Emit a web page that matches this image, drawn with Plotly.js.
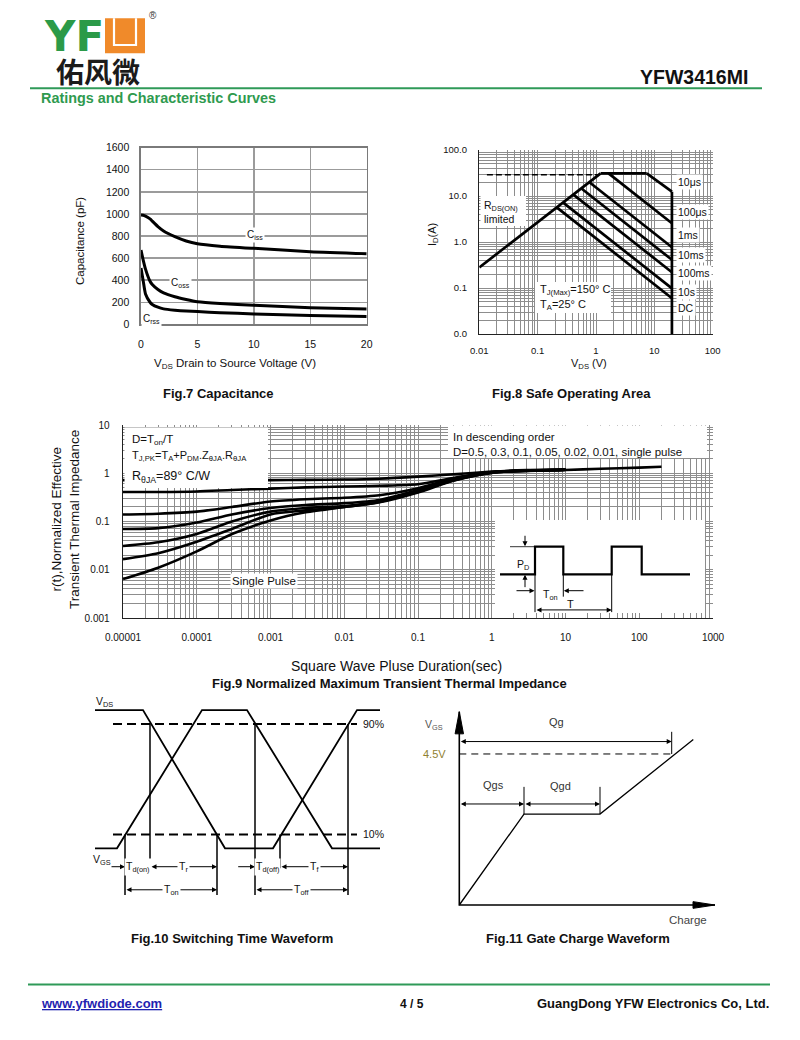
<!DOCTYPE html>
<html>
<head>
<meta charset="utf-8">
<script src="https://cdn.plot.ly/plotly-3.0.1.min.js"></script>
<style>
html,body{margin:0;padding:0;background:#fff;}
#chart{width:800px;height:1040px;}
</style>
</head>
<body>
<div id="chart"></div>
<script>
// ================= DATA =================
// Fig.7 Capacitance (pF) vs VDS (V)
const capVds  = [0, 0.2, 0.4, 0.8, 1, 1.5, 2, 3, 4, 5, 7, 10, 15, 20];
const capCiss = [990, 988, 980, 955, 935, 885, 845, 794, 755, 730, 708, 688, 658, 640];
const capCoss = [673, 580, 500, 390, 360, 315, 285, 250, 225, 205, 188, 172, 150, 138];
const capCrss = [510, 390, 275, 200, 180, 155, 140, 128, 120, 115, 105, 94, 80, 70];

// Fig.8 Safe Operating Area  (VDS in V, ID in A)
const soaRdsV   = [0.01, 1.2];   const soaRdsI   = [0.28, 31];
const soaTopV   = [1.2, 7.4];    const soaTopI   = [31, 31];
const soa10usV  = [7.4, 20];     const soa10usI  = [31, 12.4];
const soaEdgeV  = [20, 20];      const soaEdgeI  = [12.4, 0.01];
const soa100usV = [1.64, 20];    const soa100usI = [31, 2.55];
const soa1msV   = [0.78, 20];    const soa1msI   = [19.6, 0.77];
const soa10msV  = [0.57, 20];    const soa10msI  = [14.4, 0.41];
const soa100msV = [0.415, 20];   const soa100msI = [10.6, 0.22];
const soa10sV   = [0.277, 20];   const soa10sI   = [7.1, 0.098];
const soaDcV    = [0.215, 20];   const soaDcI    = [5.6, 0.060];
const soaLimV   = [0.0135, 1.1]; const soaLimI   = [29, 29];
const soaXTicks = [0.01, 0.1, 1, 10, 100];
const soaXText  = ['0.01', '0.1', '1', '10', '100'];
const soaYTicks = [0.01, 0.1, 1, 10, 100];
const soaYText  = ['0.0', '0.1', '1.0', '10.0', '100.0'];
const soaLabels = ['10μs', '100μs', '1ms', '10ms', '100ms', '10s', 'DC'];

// Fig.9 Normalized transient thermal impedance
const zthT      = [1e-5, 3e-5, 1e-4, 3e-4, 1e-3, 3e-3, 0.01, 0.03, 0.1, 0.3, 1, 3, 10];
const zthD05    = [0.72, 0.72, 0.72, 0.72, 0.72, 0.73, 0.74, 0.77, 0.85, 0.95, 1.08, 1.16, 1.20];
const zthD03    = [0.41, 0.41, 0.42, 0.45, 0.48, 0.51, 0.53, 0.55, 0.59, 0.80, 1.06, 1.15, 1.19];
const zthD01    = [0.14, 0.145, 0.16, 0.20, 0.26, 0.29, 0.31, 0.35, 0.49, 0.77, 1.05, 1.14, 1.19];
const zthD005   = [0.07, 0.073, 0.095, 0.14, 0.19, 0.22, 0.24, 0.28, 0.45, 0.74, 1.04, 1.13, 1.18];
const zthD002   = [0.031, 0.037, 0.055, 0.10, 0.16, 0.19, 0.21, 0.26, 0.43, 0.72, 1.03, 1.13, 1.18];
const zthD001   = [0.0166, 0.022, 0.038, 0.07, 0.14, 0.17, 0.20, 0.255, 0.42, 0.71, 1.03, 1.12, 1.17];
const zthSingleT = [1e-5, 3e-5, 1e-4, 3e-4, 1e-3, 3e-3, 0.01, 0.03, 0.1, 0.3, 1, 3, 10, 30, 100, 200];
const zthSingle  = [0.0064, 0.011, 0.024, 0.055, 0.105, 0.155, 0.20, 0.25, 0.40, 0.70, 1.02, 1.12, 1.17, 1.24, 1.31, 1.36];
const zthXTicks = [1e-5, 1e-4, 1e-3, 0.01, 0.1, 1, 10, 100, 1000];
const zthXText  = ['0.00001', '0.0001', '0.001', '0.01', '0.1', '1', '10', '100', '1000'];
const zthYTicks = [0.001, 0.01, 0.1, 1, 10];
const zthYText  = ['0.001', '0.01', '0.1', '1', '10'];

// Fig.9 inset: pulse train (time units, level 0=off 1=on)
const pulseT = [0, 35, 35, 63.3, 63.3, 111.7, 111.7, 141.7, 141.7, 190];
const pulseP = [0, 0, 1, 1, 0, 0, 1, 1, 0, 0];
const pulseEdgeT = [35, 63.3, 111.7];
const pulseEdgeLow = [-1.37, -0.81, -1.37];

// Fig.10 switching waveforms (time units, normalized level)
const swTimeA  = [0, 48, 130, 178, 262, 285];
const swLevelA = [1, 1, 0, 0, 1, 1];
const swTimeB  = [0, 22, 107, 152, 237, 285];
const swLevelB = [0, 0, 1, 1, 0, 0];
const swMarks      = [30, 55, 122, 160, 185, 253];
const swMarkTop    = [0.1, 0.9, 0.1, 0.9, 0.1, 0.9];
const swMarkBottom = [-0.338, -0.145, -0.338, -0.338, -0.145, -0.338];
const swLevels = [0.9, 0.1];
const swLevelText = ['90%', '10%'];

// Fig.11 gate charge waveform (charge units, VGS in V)
const gcQ = [0, 6.47, 14.07, 23.4];
const gcV = [0, 2.71, 2.71, 4.93];
const gcQgEnd = 21.24;
const gcVth = 4.5;

// ================= LAYOUT HELPERS =================
const W = 800, H = 1040;
const F = '"Liberation Sans", Arial, Helvetica, sans-serif';
const px = v => v / W;
const py = v => 1 - v / H;
const dx = (a, b) => [a / W, b / W];
const dy = (top, bottom) => [1 - bottom / H, 1 - top / H];
const K = '#000';

function minors(lo, hi) {
  const v = [];
  for (let e = lo; e < hi; e++) for (let k = 2; k <= 9; k++) v.push(k * Math.pow(10, e));
  return v;
}

const traces = [];
function add(x, y, xa, ya, line, extra) {
  traces.push(Object.assign({type: 'scatter', mode: 'lines', x: x, y: y, xaxis: xa, yaxis: ya,
    line: Object.assign({color: K, width: 2}, line), hoverinfo: 'skip', showlegend: false}, extra || {}));
}
function segs(xs, y0s, y1s) {
  const X = [], Y = [];
  xs.forEach((x, i) => { X.push(x, x, null); Y.push(y0s[i], y1s[i], null); });
  return [X, Y];
}
function hsegs(ys, x0, x1) {
  const X = [], Y = [];
  ys.forEach(y => { X.push(x0, x1, null); Y.push(y, y, null); });
  return [X, Y];
}

// ---- Fig.7 traces ----
const sp = {shape: 'spline', smoothing: 0.6, width: 3};
add(capVds, capCiss, 'x', 'y', sp);
add(capVds, capCoss, 'x', 'y', sp);
add(capVds, capCrss, 'x', 'y', sp);

// ---- Fig.8 traces ----
add(soaLimV, soaLimI, 'x2', 'y2', {width: 1.4, dash: '6px,3px'});
[[soaRdsV, soaRdsI], [soaTopV, soaTopI], [soa10usV, soa10usI], [soaEdgeV, soaEdgeI],
 [soa100usV, soa100usI], [soa1msV, soa1msI], [soa10msV, soa10msI], [soa100msV, soa100msI],
 [soa10sV, soa10sI], [soaDcV, soaDcI]].forEach(s => add(s[0], s[1], 'x2', 'y2', {width: 2.7}));

// ---- Fig.9 traces ----
const zsp = {shape: 'spline', smoothing: 0.7, width: 2.6};
[zthD05, zthD03, zthD01, zthD005, zthD002, zthD001].forEach(z => add(zthT, z, 'x3', 'y3', zsp));
add(zthSingleT, zthSingle, 'x3', 'y3', zsp);

// inset
add(pulseT, pulseP, 'x6', 'y6', {width: 2.2});
(function () {
  const s = segs(pulseEdgeT, [0, 0, 0], pulseEdgeLow);
  add(s[0], s[1], 'x6', 'y6', {width: 1});
  add([10, 35], [1, 1], 'x6', 'y6', {width: 0.8});
})();

// ---- Fig.10 traces ----
add(swTimeA, swLevelA, 'x4', 'y4', {width: 1.8});
add(swTimeB, swLevelB, 'x4', 'y4', {width: 1.8});
(function () {
  const h = hsegs(swLevels, 18, 262);
  add(h[0], h[1], 'x4', 'y4', {width: 2, dash: '9px,5px'});
  const v = segs(swMarks, swMarkTop, swMarkBottom);
  add(v[0], v[1], 'x4', 'y4', {width: 1.5});
})();

// ---- Fig.11 traces ----
const gcAxisTop = 5.76, gcAxisEnd = 25.57;
add([0, 0, gcAxisEnd], [gcAxisTop, 0, 0], 'x5', 'y5', {width: 1.6});
add([-0.42, 0, 0.42, -0.42], [gcAxisTop - 0.66, gcAxisTop, gcAxisTop - 0.66, gcAxisTop - 0.66], 'x5', 'y5',
    {width: 1}, {fill: 'toself', fillcolor: K});
add([gcAxisEnd - 2.2, gcAxisEnd, gcAxisEnd - 2.2, gcAxisEnd - 2.2], [-0.1, 0, 0.1, -0.1], 'x5', 'y5',
    {width: 1}, {fill: 'toself', fillcolor: K});
add(gcQ, gcV, 'x5', 'y5', {width: 1.3});
add([0, gcQgEnd], [gcVth, gcVth], 'x5', 'y5', {width: 1, dash: '7px,5px'});
(function () {
  const v = segs([gcQgEnd, gcQ[1], gcQ[2]], [gcVth, gcV[1], gcV[2]], [5.16, 3.52, 3.52]);
  add(v[0], v[1], 'x5', 'y5', {width: 1});
})();

// ================= ANNOTATIONS =================
function A(text, x, y, o) {
  o = o || {};
  return {text: text, x: px(x), y: py(y), xref: 'paper', yref: 'paper', showarrow: false,
    xanchor: o.anchor || 'center', yanchor: 'middle', textangle: o.angle || 0,
    font: {family: o.family || F, size: o.size || 11, color: o.color || '#111'},
    bgcolor: o.bg || 'rgba(0,0,0,0)', borderpad: o.pad == null ? 1 : o.pad, align: o.align || 'center'};
}
function D(xa, ya, text, x, y, o) {
  o = o || {};
  return {text: text, x: x, y: y, xref: xa, yref: ya, showarrow: false,
    xanchor: o.anchor || 'center', yanchor: 'middle',
    font: {family: F, size: o.size || 10.5, color: o.color || '#111'},
    bgcolor: o.bg || 'rgba(0,0,0,0)', borderpad: 1};
}
function ARW(xa, ya, x0, y0, x1, y1, both) {
  return {xref: xa, yref: ya, axref: xa, ayref: ya, x: x1, y: y1, ax: x0, ay: y0, text: '',
    showarrow: true, arrowhead: 2, arrowsize: 1, arrowwidth: 1, arrowcolor: K,
    arrowside: both ? 'end+start' : 'end', startarrowhead: 2, startarrowsize: 1, standoff: 0, startstandoff: 0};
}
const WH = '#ffffff';
const ann = [];

// Header
ann.push(A('<b>YF</b>', 74, 36.5, {size: 42, color: '#2b9a48', family: '"DejaVu Sans", sans-serif', pad: 0}));
ann.push(A('<b>佑风微</b>', 98, 71, {size: 28, family: '"Noto Sans CJK SC", sans-serif', color: '#1b1b1b', pad: 0}));
ann.push(A('®', 153, 16, {size: 10, color: '#333'}));
ann.push(A('<b>YFW3416MI</b>', 693.5, 77, {size: 19.5, color: '#111'}));
ann.push(A('<b>Ratings and Characteristic Curves</b>', 39, 97.5, {size: 14.4, color: '#2f9a4f', anchor: 'left'}));

// Fig.7
ann.push(A('Capacitance (pF)', 80, 241, {size: 11.5, angle: -90}));
ann.push(A('V<sub>DS</sub> Drain to Source Voltage (V)', 235, 364, {size: 11.5}));
ann.push(A('<b>Fig.7 Capacitance</b>', 218, 393, {size: 13}));
ann.push(A('C<sub>iss</sub>', 255, 235, {size: 10, bg: WH}));
ann.push(A('C<sub>oss</sub>', 180, 283.3, {size: 10, bg: WH}));
ann.push(A('C<sub>rss</sub>', 151.7, 319, {size: 10, bg: WH}));

// Fig.8
ann.push(A('I<sub>D</sub>(A)', 433, 235, {size: 11, angle: -90}));
ann.push(A('V<sub>DS</sub> (V)', 589, 363.5, {size: 11}));
ann.push(A('<b>Fig.8 Safe Operating Area</b>', 571, 393, {size: 13}));
const soaLabelY = [181.7, 211.7, 235, 255, 273.3, 291.7, 308.3];
soaLabels.forEach((t, i) => ann.push(A(t, 676, soaLabelY[i], {size: 10.5, anchor: 'left', bg: WH})));
ann.push(A('R<sub>DS(ON)</sub>', 482, 206, {size: 10.5, anchor: 'left'}));
ann.push(A('limited', 482, 219, {size: 10.5, anchor: 'left'}));
ann.push(A('T<sub>J(Max)</sub>=150° C', 538, 290, {size: 11, anchor: 'left'}));
ann.push(A('T<sub>A</sub>=25° C', 538, 305, {size: 11, anchor: 'left'}));

// Fig.9
ann.push(A('D=T<sub>on</sub>/T', 130, 440, {size: 11.5, anchor: 'left'}));
ann.push(A('T<sub>J,PK</sub>=T<sub>A</sub>+P<sub>DM</sub>.Z<sub>θJA</sub>.R<sub>θJA</sub>', 130, 455.5, {size: 11, anchor: 'left'}));
ann.push(A('R<sub>θJA</sub>=89° C/W', 130, 476.5, {size: 12.5, anchor: 'left'}));
ann.push(A('In descending order', 451, 437.5, {size: 11.5, anchor: 'left'}));
ann.push(A('D=0.5, 0.3, 0.1, 0.05, 0.02, 0.01, single pulse', 451, 451.5, {size: 11.5, anchor: 'left'}));
ann.push(A('Single Pulse', 264, 580.5, {size: 11.5, bg: WH}));
ann.push(A('Square Wave Pluse Duration(sec)', 396, 666, {size: 14}));
ann.push(A('r(t),Normalized Effective<br>Transient Thermal Impedance', 65, 520, {size: 13.5, angle: -90}));
ann.push(A('<b>Fig.9 Normalized Maximum Transient Thermal Impedance</b>', 389, 683, {size: 13}));
// inset
ann.push(D('x6', 'y6', 'P<sub>D</sub>', 23.3, 0.34));
ann.push(D('x6', 'y6', 'T<sub>on</sub>', 50, -0.75));
ann.push(D('x6', 'y6', 'T', 70.7, -1.06, {size: 11, bg: WH}));
ann.push(ARW('x6', 'y6', 25, 1.45, 25, 1.02, false));
ann.push(ARW('x6', 'y6', 25, -0.52, 25, -0.02, false));
ann.push(ARW('x6', 'y6', 15, -0.594, 34.5, -0.594, false));
ann.push(ARW('x6', 'y6', 85, -0.594, 63.8, -0.594, false));
ann.push(ARW('x6', 'y6', 35, -1.29, 111.7, -1.29, true));

// Fig.10
const row1 = -0.133, row2 = -0.30;
ann.push(ARW('x4', 'y4', 15, row1, swMarks[0], row1, false));
ann.push(ARW('x4', 'y4', swMarks[1], row1, swMarks[2], row1, true));
ann.push(ARW('x4', 'y4', 141.7, row1, swMarks[3], row1, false));
ann.push(ARW('x4', 'y4', swMarks[4], row1, swMarks[5], row1, true));
ann.push(ARW('x4', 'y4', swMarks[0], row2, swMarks[2], row2, true));
ann.push(ARW('x4', 'y4', swMarks[3], row2, swMarks[5], row2, true));
ann.push(D('x4', 'y4', 'T<sub>d(on)</sub>', 42.5, row1, {bg: WH}));
ann.push(D('x4', 'y4', 'T<sub>r</sub>', 88.5, row1, {bg: WH}));
ann.push(D('x4', 'y4', 'T<sub>d(off)</sub>', 172.5, row1, {bg: WH}));
ann.push(D('x4', 'y4', 'T<sub>f</sub>', 219, row1, {bg: WH}));
ann.push(D('x4', 'y4', 'T<sub>on</sub>', 76, row2, {bg: WH}));
ann.push(D('x4', 'y4', 'T<sub>off</sub>', 206.5, row2, {bg: WH}));
ann.push(D('x4', 'y4', 'V<sub>DS</sub>', 9, 1.061));
ann.push(D('x4', 'y4', 'V<sub>GS</sub>', 7, -0.085));
swLevels.forEach((lv, i) => ann.push(D('x4', 'y4', swLevelText[i], 266, lv, {anchor: 'left', size: 10.5})));
ann.push(A('<b>Fig.10 Switching Time Waveform</b>', 232, 938, {size: 13}));

// Fig.11
ann.push(ARW('x5', 'y5', 0, 4.87, gcQgEnd, 4.87, true));
ann.push(ARW('x5', 'y5', 0, 3.01, gcQ[1], 3.01, true));
ann.push(ARW('x5', 'y5', gcQ[1], 3.01, gcQ[2], 3.01, true));
ann.push(A('V<sub>GS</sub>', 434, 725, {size: 10.5, color: '#555'}));
ann.push(A('4.5V', 434, 754, {size: 11, color: '#8f7f30'}));
ann.push(A('Qg', 556.7, 721.7, {size: 11, color: '#333'}));
ann.push(A('Qgs', 493.3, 785, {size: 11, color: '#333'}));
ann.push(A('Qgd', 560, 786, {size: 11, color: '#333'}));
ann.push(A('Charge', 688, 920, {size: 11.5, color: '#444'}));
ann.push(A('<b>Fig.11 Gate Charge Waveform</b>', 578, 938, {size: 13}));

// Footer
ann.push(A('<b><u>www.yfwdiode.com</u></b>', 39, 1003.5, {size: 13, color: '#1f23b0', anchor: 'left'}));
ann.push(A('<b>4 / 5</b>', 412, 1003.5, {size: 12}));
ann.push(A('<b>GuangDong YFW Electronics Co, Ltd.</b>', 771, 1003.5, {size: 13, anchor: 'right'}));

// ================= SHAPES =================
function prect(x0, y0, x1, y1, fill, layer) {
  return {type: 'rect', xref: 'paper', yref: 'paper', x0: px(x0), x1: px(x1), y0: py(y1), y1: py(y0),
    fillcolor: fill, line: {width: 0}, layer: layer || 'above'};
}
function pline(x0, y0, x1, y1, color, w) {
  return {type: 'line', xref: 'paper', yref: 'paper', x0: px(x0), x1: px(x1), y0: py(y0), y1: py(y1),
    line: {color: color, width: w}, layer: 'above'};
}
const shapes = [
  prect(105, 18.3, 145, 53.3, '#f08a2a'),
  {type: 'path', xref: 'paper', yref: 'paper', layer: 'above', line: {color: '#fff', width: 2.2},
   path: 'M ' + px(114) + ',' + py(18.3) + ' L ' + px(114) + ',' + py(45) + ' L ' + px(136) + ',' + py(45) + ' L ' + px(136) + ',' + py(18.3)},
  pline(30, 88.3, 762, 88.3, '#2f9a58', 2),
  pline(28, 984.5, 770, 984.5, '#2f9a58', 2),
  // Fig.8 text boxes
  prect(480.5, 196, 526, 226, WH),
  prect(535, 282, 611, 313, WH),
  // Fig.9 text boxes
  prect(124.5, 427.5, 268, 488, WH),
  prect(448, 425.5, 707, 458, WH),
  // Fig.9 inset background
  {type: 'rect', xref: 'x6', yref: 'y6', x0: -5, x1: 205, y0: -1.402, y1: 1.967,
   fillcolor: WH, line: {width: 0}, layer: 'below'}
];

// ================= AXES =================
const gridC = '#8d8d8d';
const tf = s => ({family: F, size: s, color: '#111'});
const layout = {
  width: W, height: H, margin: {l: 0, r: 0, t: 0, b: 0},
  paper_bgcolor: '#fff', plot_bgcolor: '#fff', showlegend: false,
  font: {family: F, color: '#111', size: 11},
  xaxis: {domain: dx(141, 366.7), anchor: 'y', range: [0, 20], tickmode: 'linear', tick0: 0, dtick: 5,
    showgrid: true, gridcolor: '#9b9b9b', gridwidth: 1.3, zeroline: false, showline: true, mirror: true,
    linecolor: '#7a7a7a', linewidth: 1.6, ticks: '', ticklabelstandoff: 9, tickfont: tf(10.5), fixedrange: true},
  yaxis: {domain: dy(147.7, 324.3), anchor: 'x', range: [0, 1600], tickmode: 'linear', tick0: 0, dtick: 200,
    showgrid: true, gridcolor: '#9b9b9b', gridwidth: 1.3, zeroline: false, showline: true, mirror: true,
    linecolor: '#7a7a7a', linewidth: 1.6, ticks: '', ticklabelstandoff: 8, tickfont: tf(10.5), fixedrange: true},
  xaxis2: {domain: dx(479.3, 712.7), anchor: 'y2', type: 'log', range: [-2, 2], tickmode: 'array',
    tickvals: soaXTicks, ticktext: soaXText, showgrid: true, gridcolor: gridC, gridwidth: 1,
    minor: {tickmode: 'array', tickvals: minors(-2, 2), showgrid: true, gridcolor: gridC, gridwidth: 1, ticks: ''},
    zeroline: false, showline: true, mirror: false, linecolor: '#222', linewidth: 1.4, ticks: '',
    ticklabelstandoff: 7, tickfont: tf(9.5), fixedrange: true},
  yaxis2: {domain: dy(150, 334), anchor: 'x2', type: 'log', range: [-2, 2], tickmode: 'array',
    tickvals: soaYTicks, ticktext: soaYText, showgrid: true, gridcolor: gridC, gridwidth: 1,
    minor: {tickmode: 'array', tickvals: minors(-2, 2), showgrid: true, gridcolor: gridC, gridwidth: 1, ticks: ''},
    zeroline: false, showline: true, mirror: false, linecolor: '#222', linewidth: 1.4, ticks: '',
    ticklabelstandoff: 9, tickfont: tf(9.5), fixedrange: true},
  xaxis3: {domain: dx(123, 713), anchor: 'y3', type: 'log', range: [-5, 3], tickmode: 'array',
    tickvals: zthXTicks, ticktext: zthXText, showgrid: true, gridcolor: gridC, gridwidth: 1,
    minor: {tickmode: 'array', tickvals: minors(-5, 3), showgrid: true, gridcolor: gridC, gridwidth: 1, ticks: ''},
    zeroline: false, showline: true, mirror: false, linecolor: '#222', linewidth: 1.4, ticks: '',
    ticklabelstandoff: 10, tickfont: tf(10), fixedrange: true},
  yaxis3: {domain: dy(425, 618), anchor: 'x3', type: 'log', range: [-3, 1], tickmode: 'array',
    tickvals: zthYTicks, ticktext: zthYText, showgrid: true, gridcolor: gridC, gridwidth: 1,
    minor: {tickmode: 'array', tickvals: minors(-3, 1), showgrid: true, gridcolor: gridC, gridwidth: 1, ticks: ''},
    zeroline: false, showline: true, mirror: false, linecolor: '#222', linewidth: 1.4, ticks: '',
    ticklabelstandoff: 10, tickfont: tf(10), fixedrange: true},
  xaxis4: {domain: dx(90, 390), anchor: 'y4', range: [-5, 295], visible: false, fixedrange: true},
  yaxis4: {domain: dy(695, 905), anchor: 'x4', range: [-0.41, 1.109], visible: false, fixedrange: true},
  xaxis5: {domain: dx(420, 725), anchor: 'y5', range: [-3.93, 26.57], visible: false, fixedrange: true},
  yaxis5: {domain: dy(700, 925), anchor: 'x5', range: [-0.596, 6.108], visible: false, fixedrange: true},
  xaxis6: {domain: dx(495, 705), anchor: 'y6', range: [-5, 205], visible: false, fixedrange: true},
  yaxis6: {domain: dy(520, 613), anchor: 'x6', range: [-1.402, 1.967], visible: false, fixedrange: true},
  annotations: ann,
  shapes: shapes
};

Plotly.newPlot('chart', traces, layout, {staticPlot: true, displayModeBar: false});
</script>
</body>
</html>
